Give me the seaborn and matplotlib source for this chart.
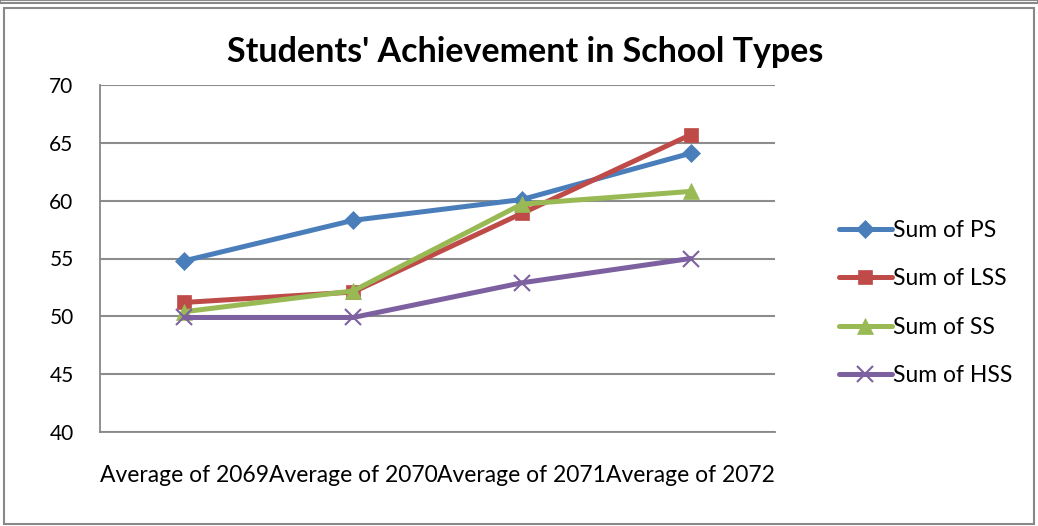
import matplotlib
matplotlib.use("Agg")
import matplotlib.pyplot as plt
import seaborn as sns
import pandas as pd
from matplotlib.patches import Rectangle

categories = ["Average of 2069", "Average of 2070", "Average of 2071", "Average of 2072"]
series_names = ["Sum of PS", "Sum of LSS", "Sum of SS", "Sum of HSS"]
ps = [54.8, 58.3, 60.1, 64.1]
lss = [51.2, 52.1, 58.9, 65.7]
ss = [50.4, 52.2, 59.7, 60.8]
hss = [49.9, 49.9, 52.9, 55.0]
y_ticks = [40, 45, 50, 55, 60, 65, 70]

colors = ["#4A7EBB", "#BE4B48", "#98B954", "#7D60A0"]
markers = ["D", "s", "^", "x"]
msizes = [9, 10, 11, 11]

sns.set_style("white")
plt.rcParams['font.family'] = ['Lato', 'DejaVu Sans']
plt.rcParams['text.color'] = 'black'
plt.rcParams['xtick.labelcolor'] = 'black'
plt.rcParams['ytick.labelcolor'] = 'black'

rows = []
for name, vals in zip(series_names, [ps, lss, ss, hss]):
    for i, v in enumerate(vals):
        rows.append({"x": i, "value": v, "series": name})
df = pd.DataFrame(rows)

fig = plt.figure(figsize=(10.38, 5.26), dpi=100)
ax = fig.add_axes([100/1038, 1-432/526, 675/1038, 347/526])

for name, c, m, ms in zip(series_names, colors, markers, msizes):
    sub = df[df["series"] == name]
    sns.lineplot(data=sub, x="x", y="value", ax=ax, color=c, linewidth=3.6,
                 marker=m, markersize=ms, markeredgecolor=c,
                 markeredgewidth=1.5 if m == "x" else 0.5, label=name, zorder=3)

ax.set_xlim(-0.5, 3.5)
ax.set_ylim(40, 70)
ax.set_yticks(y_ticks)
ax.set_yticklabels([str(t) for t in y_ticks], fontsize=15, color='black')
ax.set_xticks(range(len(categories)))
ax.set_xticklabels(categories, fontsize=16.5, color='black')
ax.set_xticks([-0.5, 0.5, 1.5, 2.5, 3.5], minor=True)
ax.tick_params(axis='x', which='major', length=0, pad=24)
ax.tick_params(axis='x', which='minor', length=6, color='#888888', width=1.2, direction='out')
ax.tick_params(axis='y', which='major', length=7, color='#888888', width=1.2, direction='out', pad=12)
ax.set_xlabel("")
ax.set_ylabel("")
ax.grid(axis='y', color='#8c8c8c', linewidth=1.5, zorder=0)
ax.set_axisbelow(True)
for s in ["top", "right"]:
    ax.spines[s].set_visible(False)
for s in ["left", "bottom"]:
    ax.spines[s].set_color('#888888')
    ax.spines[s].set_linewidth(1.3)

fig.text(525/1038, 1-52/526, "Students' Achievement in School Types", ha='center', va='center',
         fontsize=24.5, fontweight='bold', color='black')

leg = ax.legend(loc='center left', bbox_to_anchor=(1.064, 0.372), frameon=False, fontsize=16.5,
                handlelength=2.3, handletextpad=0.05, labelspacing=1.2)
for t in leg.get_texts():
    t.set_color('black')

fig.patches.append(Rectangle((4/1038, 2/526), 1030/1038, 516/526, transform=fig.transFigure,
                             fill=False, edgecolor='#888888', linewidth=1.5))
fig.patches.append(Rectangle((0, 1-3/526), 1, 3/526, transform=fig.transFigure,
                             fill=False, edgecolor='#888888', linewidth=1.5))

fig.savefig("out.png", dpi=100)
